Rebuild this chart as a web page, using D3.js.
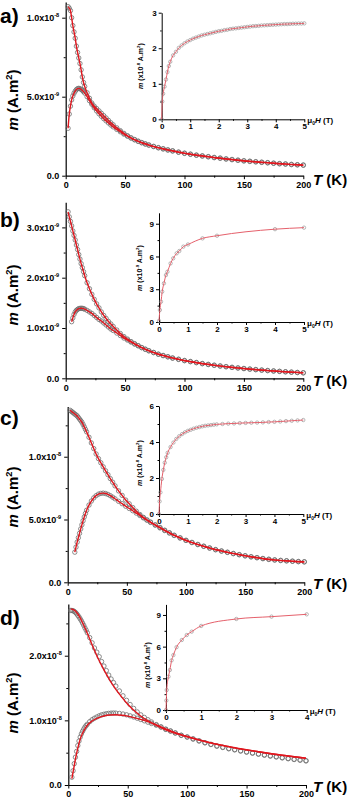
<!DOCTYPE html>
<html>
<head>
<meta charset="utf-8">
<script src="https://cdn.jsdelivr.net/npm/d3@7"></script>
<style>
  body { margin: 0; background: #fff; }
  svg { display: block; }
  text { font-family: "Liberation Sans", Arial, sans-serif; font-weight: bold; fill: #000; }
</style>
</head>
<body>
<svg id="fig" width="348" height="800"></svg>
<script>
// Temperatures (K) shared by every m(T) sweep
const tempsK = [2,3,4,5,6,7,8,9,10,11,12,13,14,15,16,18,20,22,24,26,28,30,32,34,36,38,40,
  43,46,49,52,55,58,61,64,67,70,74,78,82,86,90,95,100,105,110,115,120,125,130,135,140,
  145,150,155,160,165,170,175,180,185,190,195,200];

// Sample a — moment in units of 1e-8 A.m2
const fcA = [1.07,1.06,1.045,1.0,0.95,0.91,0.87,0.82,0.78,0.745,0.71,0.67,0.625,0.59,0.565,
  0.525,0.49,0.46,0.44,0.425,0.41,0.395,0.38,0.365,0.35,0.335,0.322,
  0.303,0.285,0.268,0.253,0.24,0.229,0.219,0.21,0.202,0.195,
  0.186,0.178,0.171,0.164,0.158,
  0.15,0.143,0.137,0.131,0.126,0.121,0.116,0.112,0.107,0.103,0.099,0.095,0.092,0.089,0.086,0.083,0.08,0.077,0.075,0.072,0.07,0.068];
const zfcA = [0.30,0.39,0.44,0.48,0.505,0.522,0.535,0.545,0.551,0.553,0.551,0.546,0.54,0.532,0.523,
  0.5,0.475,0.452,0.43,0.41,0.392,0.376,0.361,0.347,0.334,0.321,0.309,
  0.293,0.278,0.263,0.25,0.238,0.227,0.217,0.208,0.2,0.193,
  0.184,0.176,0.169,0.162,0.156,
  0.148,0.141,0.135,0.129,0.124,0.119,0.114,0.11,0.105,0.101,0.097,0.093,0.09,0.087,0.084,0.081,0.078,0.075,0.073,0.07,0.068,0.066];

// Sample b — units of 1e-9 A.m2
const fcB = [3.31,3.21,3.12,3.03,2.93,2.84,2.75,2.65,2.56,2.46,2.37,2.28,2.2,2.12,2.04,
  1.9,1.78,1.67,1.57,1.48,1.4,1.32,1.25,1.19,1.13,1.08,1.03,
  0.96,0.89,0.83,0.78,0.73,0.69,0.65,0.61,0.58,0.55,
  0.515,0.48,0.455,0.43,0.405,
  0.38,0.355,0.335,0.315,0.295,0.278,0.262,0.247,0.233,0.22,0.208,0.196,0.185,0.175,0.165,0.156,0.147,0.139,0.131,0.124,0.117,0.11];
const zfcB = [null,null,null,1.125,1.2,1.27,1.32,1.35,1.37,1.385,1.39,1.393,1.39,1.385,1.375,
  1.35,1.32,1.29,1.25,1.21,1.17,1.14,1.1,1.06,1.02,0.98,0.95,
  0.9,0.85,0.8,0.76,0.72,0.68,0.645,0.61,0.575,0.545,
  0.51,0.478,0.45,0.425,0.4,
  0.375,0.35,0.33,0.31,0.29,0.273,0.257,0.242,0.228,0.215,0.203,0.192,0.181,0.171,0.161,0.152,0.144,0.136,0.128,0.121,0.114,0.108];

// Sample c — units of 1e-8 A.m2
const fcC = [1.37,1.362,1.355,1.348,1.34,1.333,1.325,1.313,1.3,1.288,1.275,1.257,1.238,1.218,1.198,
  1.155,1.11,1.065,1.022,0.985,0.952,0.92,0.888,0.857,0.826,0.797,0.768,
  0.728,0.692,0.655,0.625,0.595,0.566,0.54,0.517,0.497,0.48,
  0.458,0.437,0.415,0.395,0.375,
  0.355,0.335,0.318,0.302,0.288,0.274,0.261,0.25,0.24,0.23,0.221,0.212,0.204,0.197,0.19,0.184,0.179,0.175,0.172,0.169,0.166,0.164];
const zfcC = [null,null,null,null,0.24,0.28,0.32,0.355,0.39,0.425,0.458,0.49,0.52,0.548,0.574,
  0.615,0.647,0.672,0.69,0.702,0.708,0.71,0.707,0.7,0.69,0.678,0.665,
  0.645,0.626,0.606,0.588,0.57,0.551,0.532,0.513,0.495,0.477,
  0.455,0.433,0.412,0.392,0.373,
  0.352,0.333,0.316,0.3,0.286,0.272,0.259,0.248,0.238,0.228,0.219,0.21,0.202,0.195,0.188,0.182,0.177,0.173,0.17,0.167,0.164,0.162];

// Sample d — units of 1e-8 A.m2
const fcD = [2.70,2.70,2.695,2.685,2.67,2.65,2.625,2.6,2.57,2.54,2.505,2.47,2.43,2.395,2.355,
  2.28,2.2,2.12,2.055,1.985,1.91,1.84,1.77,1.7,1.64,1.585,1.53,
  1.455,1.38,1.31,1.245,1.185,1.13,1.085,1.045,1.01,0.975,
  0.935,0.9,0.865,0.835,0.805,
  0.77,0.745,0.715,0.685,0.655,0.63,0.605,0.585,0.565,0.548,0.53,0.513,0.497,0.481,0.466,0.452,0.438,0.424,0.411,0.399,0.388,0.377];
const zfcD = [null,0.12,0.22,0.33,0.43,0.52,0.61,0.68,0.74,0.79,0.83,0.865,0.895,0.92,0.94,
  0.98,1.01,1.033,1.052,1.07,1.085,1.095,1.103,1.108,1.112,1.113,1.112,
  1.107,1.098,1.086,1.07,1.052,1.033,1.013,0.993,0.972,0.952,
  0.925,0.895,0.86,0.835,0.805,
  0.768,0.74,0.71,0.68,0.652,0.626,0.6,0.58,0.56,0.543,0.525,0.508,0.492,0.476,0.461,0.447,0.433,0.419,0.406,0.394,0.383,0.372];

// Model curves for sample d
const fitTempsD = [2,3,4,5,6,8,10,12,15,20,25,30,35,40,45,50,60,70,80,90,100,120,140,160,180,200];
const fitFcD = [2.72,2.72,2.715,2.705,2.69,2.645,2.585,2.51,2.39,2.17,1.96,1.78,1.62,1.48,1.36,1.25,1.08,0.96,0.87,0.8,0.745,0.65,0.575,0.515,0.46,0.413];
const fitZfcD = [null,0.1,0.2,0.3,0.4,0.57,0.71,0.8,0.9,0.99,1.04,1.068,1.082,1.086,1.08,1.066,1.02,0.96,0.885,0.81,0.75,0.652,0.576,0.515,0.46,0.413];

// Field sweeps m(mu0 H): [field T, moment]
const loopA = [[0,0],[0.02,0.5],[0.05,0.72],[0.1,0.92],[0.15,1.12],[0.2,1.33],[0.25,1.5],[0.3,1.62],[0.4,1.8],[0.5,1.9],
  [0.6,2.01],[0.7,2.08],[0.8,2.14],[0.9,2.19],[1.0,2.23],[1.1,2.27],[1.2,2.3],[1.3,2.33],[1.4,2.36],[1.5,2.38],
  [1.6,2.4],[1.7,2.42],[1.8,2.44],[1.9,2.46],[2.0,2.48],[2.1,2.49],[2.2,2.51],[2.3,2.52],[2.4,2.54],[2.5,2.55],
  [2.6,2.56],[2.7,2.57],[2.8,2.58],[2.9,2.59],[3.0,2.6],[3.1,2.61],[3.2,2.62],[3.3,2.625],[3.4,2.63],[3.5,2.64],
  [3.6,2.645],[3.7,2.65],[3.8,2.655],[3.9,2.66],[4.0,2.665],[4.1,2.67],[4.2,2.675],[4.3,2.68],[4.4,2.68],[4.5,2.685],
  [4.6,2.69],[4.7,2.69],[4.8,2.695],[4.9,2.695],[5.0,2.7]];
const loopB = [[0,0.1],[0.03,1.1],[0.07,1.86],[0.11,2.78],[0.17,3.54],[0.24,4.3],[0.29,4.6],[0.4,5.37],[0.49,5.83],
  [0.61,6.29],[0.7,6.5],[0.84,6.9],[1.0,7.1],[1.5,7.66],[2.0,7.9],[4.0,8.5],[5.0,8.64]];
const loopC = [[0,0],[0.02,0.7],[0.05,1.2],[0.1,1.95],[0.15,2.45],[0.2,2.85],[0.25,3.15],[0.3,3.4],[0.4,3.72],[0.5,3.97],
  [0.6,4.17],[0.7,4.32],[0.8,4.44],[0.9,4.54],[1.0,4.62],[1.1,4.68],[1.2,4.74],[1.3,4.79],[1.4,4.83],[1.5,4.87],
  [1.6,4.9],[1.7,4.92],[1.8,4.94],[1.9,4.96],[2.0,4.98],[2.2,5.0],[2.4,5.02],[2.6,5.03],[2.8,5.05],[3.0,5.06],
  [3.2,5.07],[3.4,5.08],[3.6,5.09],[3.8,5.11],[4.0,5.12],[4.2,5.14],[4.4,5.16],[4.6,5.18],[4.8,5.2],[5.0,5.22]];
const loopD = [[0,0],[0.01,0.9],[0.02,1.89],[0.07,3.16],[0.11,3.79],[0.16,4.7],[0.21,5.2],[0.3,5.95],[0.45,6.63],
  [0.59,7.1],[0.73,7.42],[1.0,7.96],[2.0,8.62],[3.0,8.84],[4.0,9.06]];

// Axis tick values
const tempTicks = [0,50,100,150,200];
const tempMinor = [25,75,125,175];

const panels = [
  { tag: "a)", tagY: 23, exp: -8, fc: fcA, zfc: zfcA,
    x0: 65.7, x1: 303.3, y0: 175.7, yTop: 1.9, yMax: 1.1, yTicks: [0,0.5,1.0], yMinor: [0.25,0.75],
    yLabY: 100, tLabY: 185,
    inset: { data: loopA, exp: -8, x0: 161.7, x1: 304.3, y0: 119.3, yTop: 12.7, hMax: 5, mMax: 3,
             hTicks: [0,1,2,3,4,5], mTicks: [0,1,2,3], labX: 143, labY: 66 } },
  { tag: "b)", tagY: 227, exp: -9, fc: fcB, zfc: zfcB,
    x0: 65.7, x1: 303.3, y0: 378.3, yTop: 202.25, yMax: 3.5, yTicks: [0,1,2,3], yMinor: [0.5,1.5,2.5],
    yLabY: 295, tLabY: 386,
    inset: { data: loopB, exp: -9, x0: 159, x1: 304, y0: 322, yTop: 212.8, hMax: 5, mMax: 10,
             hTicks: [0,1,2,3,4,5], mTicks: [0,3,6,9], labX: 142, labY: 268 } },
  { tag: "c)", tagY: 425, exp: -8, fc: fcC, zfc: zfcC,
    x0: 67.7, x1: 304.3, y0: 582.3, yTop: 406.5, yMax: 1.4, yTicks: [0,0.5,1.0], yMinor: [0.25,0.75,1.25],
    yLabY: 497, tLabY: 589,
    inset: { data: loopC, exp: -8, x0: 159, x1: 303.3, y0: 514, yTop: 406, hMax: 5, mMax: 6,
             hTicks: [0,1,2,3,4,5], mTicks: [0,2,4,6], labX: 142, labY: 463 } },
  { tag: "d)", tagY: 625, exp: -8, fc: fcD, zfc: zfcD,
    fitT: fitTempsD, fitFc: fitFcD, fitZfc: fitZfcD,
    x0: 68.3, x1: 306, y0: 785, yTop: 604, yMax: 2.8, yTicks: [0,1,2], yMinor: [0.5,1.5,2.5],
    yLabY: 703, tLabY: 792,
    inset: { data: loopD, exp: -8, x0: 166, x1: 306.7, y0: 710, yTop: 604.4, hMax: 4, mMax: 10,
             hTicks: [0,1,2,3,4], mTicks: [0,3,6,9], labX: 150, labY: 665 } }
];

const svg = d3.select("#fig");
const RED = "#e0161e";
const PINK = "#e5606b";
const GREY = "#6e6e6e";

// Writes a run of styled pieces (italic / superscript / subscript) into a text node
function rich(textSel, parts, fs) {
  let shift = 0;
  parts.forEach(p => {
    const ts = textSel.append("tspan").text(p.t);
    let target = 0;
    if (p.sup) { target = -fs * 0.42; ts.attr("font-size", fs * 0.62); }
    if (p.sub) { target = fs * 0.25; ts.attr("font-size", fs * 0.62); }
    if (p.i) ts.attr("font-style", "italic");
    if (target !== shift) { ts.attr("dy", target - shift); shift = target; }
  });
}

function styleAxis(g, fs) {
  g.select(".domain").attr("stroke", "#000").attr("stroke-width", 1.2);
  g.selectAll(".tick line").attr("stroke", "#000").attr("stroke-width", 1);
  g.selectAll(".tick text").attr("font-size", fs).attr("font-weight", "bold")
    .attr("font-family", '"Liberation Sans", Arial, sans-serif').attr("fill", "#000");
}

function seriesPoints(ts, ms) {
  return ts.map((t, i) => [t, ms[i]]).filter(d => d[1] != null);
}

function drawPanel(p) {
  const g = svg.append("g");
  const x = d3.scaleLinear().domain([0, 200]).range([p.x0, p.x1]);
  const y = d3.scaleLinear().domain([0, p.yMax]).range([p.y0, p.yTop]);

  // minor ticks
  g.append("g").attr("transform", `translate(0,${p.y0})`)
    .call(d3.axisBottom(x).tickValues(tempMinor).tickSize(2).tickSizeOuter(0).tickFormat(""))
    .call(a => { a.select(".domain").remove(); styleAxis(a, 9); });
  g.append("g").attr("transform", `translate(${p.x0},0)`)
    .call(d3.axisLeft(y).tickValues(p.yMinor).tickSize(2).tickSizeOuter(0).tickFormat(""))
    .call(a => { a.select(".domain").remove(); styleAxis(a, 9); });

  // main axes
  const xa = g.append("g").attr("transform", `translate(0,${p.y0})`)
    .call(d3.axisBottom(x).tickValues(tempTicks).tickSize(3.5).tickSizeOuter(0).tickPadding(2.5));
  styleAxis(xa, 9);
  const ya = g.append("g").attr("transform", `translate(${p.x0},0)`)
    .call(d3.axisLeft(y).tickValues(p.yTicks).tickSize(3.5).tickSizeOuter(0).tickFormat(""));
  styleAxis(ya, 9);

  // y tick labels written as mantissa x 10^exponent
  p.yTicks.forEach(v => {
    const t = g.append("text").attr("x", p.x0 - 6.5).attr("y", y(v) + 3.2)
      .attr("text-anchor", "end").attr("font-size", 9);
    if (v === 0) { t.text("0.0"); return; }
    const k = Math.floor(Math.log10(v) + 1e-9);
    const mant = v / Math.pow(10, k);
    rich(t, [{ t: mant.toFixed(1) + "x10" }, { t: "-" + Math.abs(k + p.exp), sup: true }], 9);
  });

  // measured points (open circles)
  const ptsZ = seriesPoints(tempsK, p.zfc);
  const ptsF = seriesPoints(tempsK, p.fc);
  [ptsZ, ptsF].forEach(pts => {
    g.append("g").selectAll("circle").data(pts).join("circle")
      .attr("cx", d => x(d[0])).attr("cy", d => y(d[1])).attr("r", 2.2)
      .attr("fill", "none").attr("stroke", GREY).attr("stroke-width", 0.8);
  });

  // model curves
  const line = d3.line().x(d => x(d[0])).y(d => y(d[1])).curve(d3.curveMonotoneX);
  const fits = p.fitT ? [seriesPoints(p.fitT, p.fitZfc), seriesPoints(p.fitT, p.fitFc)] : [ptsZ, ptsF];
  fits.forEach(pts => {
    g.append("path").attr("d", line(pts)).attr("fill", "none")
      .attr("stroke", RED).attr("stroke-width", 1.4);
  });

  // panel tag and axis titles
  g.append("text").attr("x", 0).attr("y", p.tagY).attr("font-size", 21).text(p.tag);
  const yl = g.append("text").attr("text-anchor", "middle").attr("font-size", 15)
    .attr("transform", `translate(18,${p.yLabY}) rotate(-90)`);
  rich(yl, [{ t: "m", i: true }, { t: " (A.m" }, { t: "2", sup: true }, { t: ")" }], 15);
  const tl = g.append("text").attr("x", 313).attr("y", p.tLabY).attr("font-size", 15);
  rich(tl, [{ t: "T", i: true }, { t: " (K)" }], 15);

  drawInset(g, p.inset);
}

function drawInset(g, s) {
  const x = d3.scaleLinear().domain([0, s.hMax]).range([s.x0, s.x1]);
  const y = d3.scaleLinear().domain([0, s.mMax]).range([s.y0, s.yTop]);
  const hMinor = d3.range(0.5, s.hMax, 1);
  const step = s.mTicks[1] - s.mTicks[0];
  const mMinor = d3.range(step / 2, s.mMax, step);

  g.append("g").attr("transform", `translate(0,${s.y0})`)
    .call(d3.axisBottom(x).tickValues(hMinor).tickSize(1.5).tickSizeOuter(0).tickFormat(""))
    .call(a => { a.select(".domain").remove(); styleAxis(a, 8); });
  g.append("g").attr("transform", `translate(${s.x0},0)`)
    .call(d3.axisLeft(y).tickValues(mMinor).tickSize(1.5).tickSizeOuter(0).tickFormat(""))
    .call(a => { a.select(".domain").remove(); styleAxis(a, 8); });

  const xa = g.append("g").attr("transform", `translate(0,${s.y0})`)
    .call(d3.axisBottom(x).tickValues(s.hTicks).tickSize(3).tickSizeOuter(0).tickPadding(1.5).tickFormat(d3.format("d")));
  styleAxis(xa, 8);
  xa.select(".domain").attr("stroke-width", 1);
  const ya = g.append("g").attr("transform", `translate(${s.x0},0)`)
    .call(d3.axisLeft(y).tickValues(s.mTicks).tickSize(3).tickSizeOuter(0).tickPadding(2).tickFormat(d3.format("d")));
  styleAxis(ya, 8);
  ya.select(".domain").attr("stroke-width", 1);

  g.append("g").selectAll("circle").data(s.data).join("circle")
    .attr("cx", d => x(d[0])).attr("cy", d => y(d[1])).attr("r", 1.7)
    .attr("fill", "none").attr("stroke", "#8a8a8a").attr("stroke-width", 0.6);

  const line = d3.line().x(d => x(d[0])).y(d => y(d[1])).curve(d3.curveMonotoneX);
  g.append("path").attr("d", line(s.data)).attr("fill", "none")
    .attr("stroke", PINK).attr("stroke-width", 1);

  const yl = g.append("text").attr("text-anchor", "middle").attr("font-size", 7)
    .attr("transform", `translate(${s.labX},${s.labY}) rotate(-90)`);
  rich(yl, [{ t: "m", i: true }, { t: " (x10" }, { t: "-" + Math.abs(s.exp), sup: true },
            { t: " A.m" }, { t: "2", sup: true }, { t: ")" }], 7);

  const hl = g.append("text").attr("x", s.x1 + 3).attr("y", s.y0 + 3.5).attr("font-size", 8);
  rich(hl, [{ t: "\u03bc" }, { t: "0", sub: true }, { t: "H", i: true }, { t: " (T)" }], 8);
}

panels.forEach(drawPanel);
</script>
</body>
</html>
